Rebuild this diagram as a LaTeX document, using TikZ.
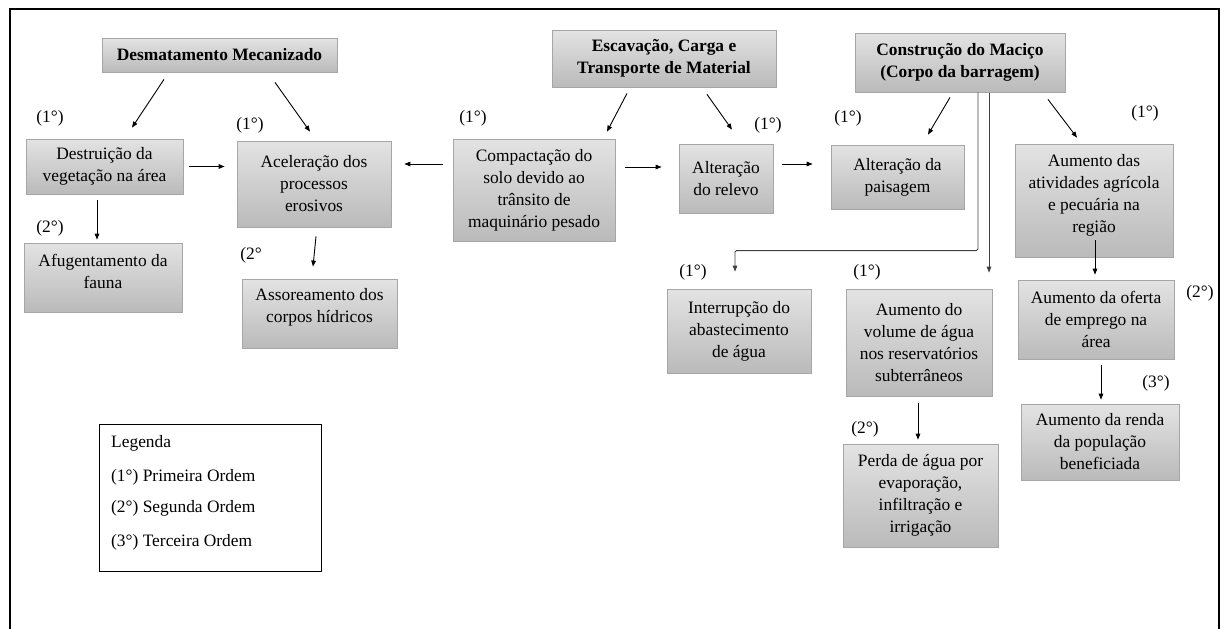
\documentclass[tikz,border=0pt]{standalone}
\usepackage{fontspec}
\setmainfont{Liberation Serif}
\usetikzlibrary{arrows.meta,calc}
\newcommand\myfs{\fontsize{17.4}{22}\selectfont}
\begin{document}
\begin{tikzpicture}[x=1pt,y=-1pt,
  box/.style={draw=black!35, line width=0.8pt, top color=black!11, bottom color=black!27,
    inner sep=0pt, align=center, font=\myfs},
  lab/.style={inner sep=0pt, font=\myfs},
  arr/.style={-{Triangle[length=6pt,width=4.6pt]}, line width=0.9pt, black},
  garr/.style={-{Triangle[length=6pt,width=4.6pt]}, line width=0.9pt, black!75},
  frame/.style={line width=2.8pt, black}]
\useasboundingbox (0,0) rectangle (1224,629);
\draw[frame] (10,629) -- (10,9) -- (1219,9) -- (1219,629);

% boxes
\node[box, minimum width=235, minimum height=34] (desm) at (219.5,55) {\textbf{Desmatamento Mecanizado}};
\node[box, minimum width=224, minimum height=57] (escav) at (664,58.5) {\textbf{Escavação, Carga e}\\\textbf{Transporte de Material}};
\node[box, minimum width=210, minimum height=59] (constr) at (960,62.5) {\textbf{Construção do Maciço}\\\textbf{(Corpo da barragem)}};
\node[box, minimum width=157, minimum height=55] (destr) at (104.5,166.5) {Destruição da\\vegetação na área};
\node[box, minimum width=154, minimum height=86] (acel) at (314,184) {Aceleração dos\\processos\\erosivos};
\node[box, minimum width=158, minimum height=69, text height=34pt, text depth=13pt] (afug) at (103,277.5) {Afugentamento da\\fauna};
\node[box, minimum width=155, minimum height=69, text height=34pt, text depth=16.8pt] (assor) at (319.5,313.5) {Assoreamento dos\\corpos hídricos};
\node[box, minimum width=162, minimum height=102] (compac) at (534,190) {Compactação do\\solo devido ao\\trânsito de\\maquinário pesado};
\node[box, minimum width=94, minimum height=69] (relevo) at (726,178.5) {Alteração\\do relevo};
\node[box, minimum width=133, minimum height=64] (paisag) at (897.5,177) {Alteração da\\paisagem};
\node[box, minimum width=158, minimum height=113, text height=78pt, text depth=13.8pt] (ativ) at (1094,200.5) {Aumento das\\atividades agrícola\\e pecuária na\\região};
\node[box, minimum width=144, minimum height=84] (interr) at (739,331) {Interrupção do\\abastecimento\\de água};
\node[box, minimum width=146, minimum height=107] (volume) at (919,342.5) {Aumento do\\volume de água\\nos reservatórios\\subterrâneos};
\node[box, minimum width=155, minimum height=103] (perda) at (920.5,495.5) {Perda de água por\\evaporação,\\infiltração e\\irrigação};
\node[box, minimum width=156, minimum height=79] (oferta) at (1096,319.5) {Aumento da oferta\\de emprego na\\área};
\node[box, minimum width=158, minimum height=76] (renda) at (1100,442) {Aumento da renda\\da população\\beneficiada};

% order labels
\node[lab] (l1) at (50,118) {(1°)};
\node[lab] (l2) at (250,125) {(1°)};
\node[lab] (l3) at (50,228) {(2°)};
\node[lab] (l4) at (251,255) {(2°};
\node[lab] (l5) at (473,118) {(1°)};
\node[lab] (l6) at (768,125) {(1°)};
\node[lab] (l7) at (848,118) {(1°)};
\node[lab] (l8) at (1145,113) {(1°)};
\node[lab] (l9) at (693,272) {(1°)};
\node[lab] (l10) at (867,272) {(1°)};
\node[lab] (l11) at (865,429) {(2°)};
\node[lab] (l12) at (1200,293) {(2°)};
\node[lab] (l13) at (1156,383) {(3°)};

% arrows
\draw[arr] ($(desm.south)+(-55.5,7)$) -- ($(destr.north)+(27.5,-11)$);
\draw[arr] ($(desm.south)+(55.5,10)$) -- ($(acel.north)+(-4,-9)$);
\draw[arr] ($(destr.east)+(6,0)$) -- ($(destr.east -| acel.west)+(-12,0)$);
\draw[arr] ($(destr.south)+(-7.5,6)$) -- ($(afug.north)+(-6,-3)$);
\draw[arr] ($(acel.south)+(2,9)$) -- ($(assor.north)+(-6.5,-12)$);
\draw[arr] ($(compac.west)+(-10,-26)$) -- ($(acel.east)+(13,-20)$);
\draw[arr] ($(escav.south)+(-37,6)$) -- ($(compac.north)+(73,-7)$);
\draw[arr] ($(escav.south)+(43,7)$) -- ($(relevo.north)+(6,-14)$);
\draw[arr] ($(compac.east)+(10,-23)$) -- ($(relevo.west)+(-17,-11.5)$);
\draw[arr] ($(relevo.east)+(9,-14.5)$) -- ($(paisag.west)+(-18,-13)$);
\draw[arr] ($(constr.south)+(-10,5)$) -- ($(paisag.north)+(30.5,-10)$);
\draw[arr] ($(constr.south)+(88,7)$) -- ($(ativ.north)+(-17,-6)$);
\draw[garr, rounded corners=1.5pt] ($(constr.south)+(18,0)$) |- ($(interr.north)+(-4,-38)$) -- ($(interr.north)+(-4,-17)$);
\draw[garr] ($(constr.south)+(29,1)$) -- ($(volume.north)+(70,-16)$);
\draw[arr] ($(ativ.south)+(1,-17)$) -- ($(oferta.north)+(-1,-5)$);
\draw[arr] ($(volume.south)+(-1,7)$) -- ($(perda.north)+(-2.5,-4)$);
\draw[arr] ($(oferta.south)+(5,6)$) -- ($(renda.north)+(1,-4)$);

% legend
\node[draw=black, line width=1.3pt, minimum width=222, minimum height=147, inner sep=0pt, anchor=north west] (leg) at (99,424) {};
\node[lab, anchor=base west] (leg0) at (111,447) {Legenda};
\node[lab, anchor=base west] (leg1) at (111,481) {(1°) Primeira Ordem};
\node[lab, anchor=base west] (leg2) at (111,512) {(2°) Segunda Ordem};
\node[lab, anchor=base west] (leg3) at (111,546) {(3°) Terceira Ordem};
\end{tikzpicture}
\end{document}
